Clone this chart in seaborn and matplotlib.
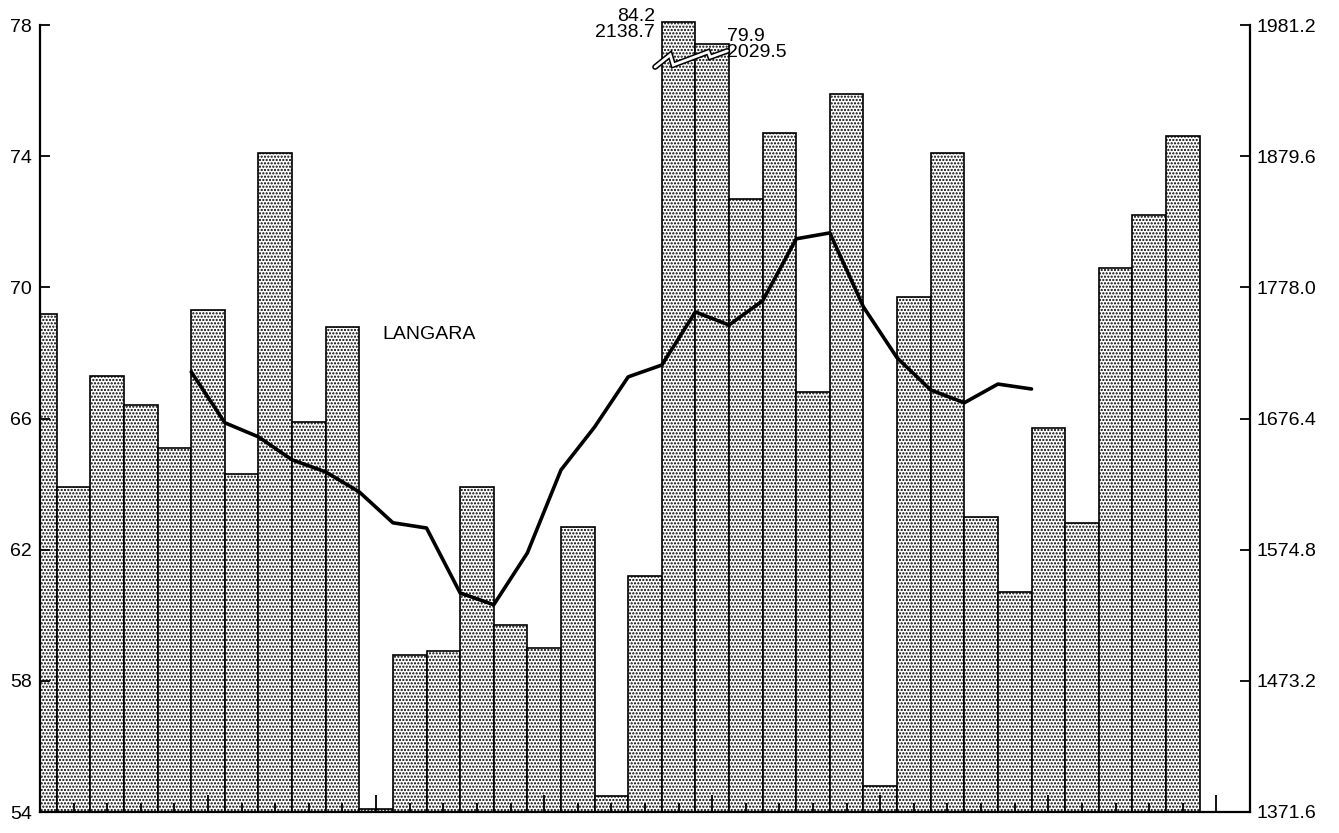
import numpy as np
import matplotlib
matplotlib.use("Agg")
import matplotlib.pyplot as plt
from matplotlib.patches import Rectangle
import seaborn as sns

# Annual precipitation at Langara (inches), one bar per year
year_index = list(range(35))
annual_in = [69.2, 63.9, 67.3, 66.4, 65.1, 69.3, 64.3, 74.1, 65.9, 68.8,
             54.1, 58.8, 58.9, 63.9, 59.7, 59.0, 62.7, 54.5, 61.2, 84.2,
             79.9, 72.7, 74.7, 66.8, 75.9, 54.8, 69.7, 74.1, 63.0, 60.7,
             65.7, 62.8, 70.6, 72.2, 74.6]

# Ten-year running mean, centred between years
mean_pos = [i + 0.5 for i in range(4, 30)]
mean_in = [67.42, 65.87, 65.44, 64.74, 64.37, 63.76, 62.82, 62.66, 60.68, 60.32,
           61.90, 64.43, 65.74, 67.27, 67.63, 69.25, 68.85, 69.59, 71.48, 71.66,
           69.40, 67.85, 66.87, 66.48, 67.05, 66.90]

left_ticks = [54, 58, 62, 66, 70, 74, 78]
MM_PER_IN = 25.4
station = "LANGARA"

sns.set_style("ticks")
plt.rcParams["font.family"] = ["Liberation Sans", "DejaVu Sans"]
plt.rcParams["text.color"] = "black"
plt.rcParams["hatch.linewidth"] = 1.05
plt.rcParams["axes.axisbelow"] = False

W, H = 1339, 833
fig = plt.figure(figsize=(W / 100, H / 100), dpi=100)
ax = fig.add_axes([40 / W, 21 / H, 1210 / W, 787 / H])
ax.set_axisbelow(False)

ymin, ymax = left_ticks[0], left_ticks[-1]
# values beyond the axis top are shown on a compressed scale above a break
brk, squeeze = 77.0, 0.15
drawn = [v if v <= brk else brk + (v - brk) * squeeze for v in annual_in]

sns.barplot(x=year_index, y=drawn, native_scale=True, width=1.0, gap=0,
            color="white", edgecolor="black", linewidth=1.2,
            saturation=1, err_kws={"linewidth": 0}, ax=ax)
clip_rect = Rectangle((0, 0), 1, 1.05, transform=ax.transAxes)
for i, p in enumerate(ax.patches):
    p.set_facecolor("white")
    p.set_hatch(".....")
    p.set_zorder(1)
    if annual_in[i] > ymax:
        p.set_clip_path(clip_rect)

sns.lineplot(x=mean_pos, y=mean_in, color="black", linewidth=2.6, ax=ax,
             zorder=4)

# break symbol across the two truncated bars
broken = [i for i, v in enumerate(annual_in) if v > ymax]
b0 = broken[0]
zig_dx = [-0.70, -0.25, -0.16, 0.88, 0.94, 1.45]
zig_dy = [-0.28, 0.09, -0.22, 0.18, 0.02, 0.21]
zx = [b0 + d for d in zig_dx]
zy = [brk + d for d in zig_dy]
ax.plot(zx, zy, color="black", lw=4.2, solid_joinstyle="miter", zorder=5,
        clip_on=False)
ax.plot(zx, zy, color="white", lw=2.0, solid_joinstyle="miter", zorder=6,
        clip_on=False)

fs = 14
b1 = broken[1]
ax.text(zx[0], 78.27, f"{annual_in[b0]:.1f}", ha="right", va="center",
        fontsize=fs, color="black", clip_on=False)
ax.text(zx[0], 77.76, f"{annual_in[b0] * MM_PER_IN:.1f}", ha="right",
        va="center", fontsize=fs, color="black", clip_on=False)
ax.text(zx[-1], 77.66, f"{annual_in[b1]:.1f}", ha="left", va="center",
        fontsize=fs, color="black", clip_on=False)
ax.text(zx[-1], 77.15, f"{annual_in[b1] * MM_PER_IN:.1f}", ha="left",
        va="center", fontsize=fs, color="black", clip_on=False)

ax.text(10.2, 68.55, station, ha="left", va="center", fontsize=fs,
        color="black")

# axes
ax.set_xlim(0, 36)
ax.set_ylim(ymin, ymax)
ax.set_yticks(left_ticks)
ax.set_yticklabels([str(t) for t in left_ticks])
ax.set_xticks(range(0, 36, 5))
ax.set_xticks([i for i in range(36) if i % 5], minor=True)
ax.set_xticklabels([])
ax.set_xlabel("")
ax.set_ylabel("")
ax.tick_params(axis="x", which="major", direction="in", length=12, width=1.3,
               color="black")
ax.tick_params(axis="x", which="minor", direction="in", length=6.5, width=1.3,
               color="black")
ax.tick_params(axis="y", which="both", direction="in", length=7, width=1.3,
               pad=6, labelsize=fs, color="black", labelcolor="black",
               left=True, right=False)
for s in ["left", "bottom"]:
    ax.spines[s].set_linewidth(1.6)
    ax.spines[s].set_color("black")
ax.spines["top"].set_visible(False)
ax.spines["right"].set_visible(False)

ax2 = ax.twinx()
ax2.set_ylim(ymin * MM_PER_IN, ymax * MM_PER_IN)
ax2.set_yticks([t * MM_PER_IN for t in left_ticks])
ax2.set_yticklabels([f"{t * MM_PER_IN:.1f}" for t in left_ticks])
ax2.tick_params(axis="y", which="both", direction="in", length=7, width=1.3,
                pad=5, labelsize=fs, color="black", labelcolor="black")
ax2.spines["right"].set_linewidth(1.6)
ax2.spines["right"].set_color("black")
for s in ["top", "left", "bottom"]:
    ax2.spines[s].set_visible(False)
ax2.grid(False)
ax.grid(False)

fig.savefig("out.png", dpi=100)
